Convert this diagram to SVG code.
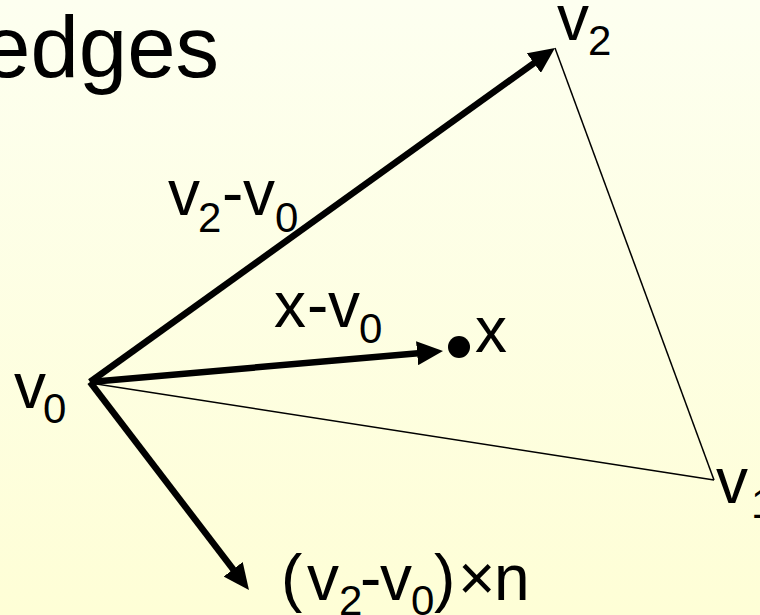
<svg xmlns="http://www.w3.org/2000/svg" width="760" height="615" viewBox="0 0 760 615">
<defs>
<linearGradient id="bg" x1="0" y1="0" x2="0" y2="1">
<stop offset="0" stop-color="#FDFFF0"/>
<stop offset="1" stop-color="#FEFED6"/>
</linearGradient>
<marker id="ah" markerUnits="userSpaceOnUse" viewBox="0 0 26 24" markerWidth="26" markerHeight="24" refX="4" refY="12" orient="auto">
<path d="M0,0 L26,12 L0,24 z" fill="#000"/>
</marker>
</defs>
<style>
text{font-family:"Liberation Sans",Arial,sans-serif;fill:#000}
.m{font-size:64px}
.s{font-size:42px}
.thin{stroke:#000;stroke-width:1.5;fill:none}
.thick{stroke:#000;stroke-width:6.5;fill:none;marker-end:url(#ah)}
</style>
<rect x="0" y="0" width="760" height="615" fill="url(#bg)"/>
<text x="-18" y="77" font-size="87">edges</text>
<g id="connectors">
<line class="thin" x1="90" y1="383" x2="714" y2="480"/>
<line class="thin" x1="555" y1="48" x2="714" y2="480"/>
<line class="thick" x1="90" y1="382" x2="537.1" y2="60.8"/>
<line class="thick" x1="90" y1="382" x2="421.1" y2="352.9"/>
<line class="thick" x1="90" y1="382" x2="235.6" y2="572.5"/>
</g>
<g id="v0"><text class="m" x="14" y="408">v<tspan class="s" x="43" y="423">0</tspan></text></g>
<g id="v2"><text class="m" x="557" y="40">v<tspan class="s" x="588" y="55">2</tspan></text></g>
<g id="v1"><text class="m" x="716" y="503">v<tspan class="s" x="751" y="518">1</tspan></text></g>
<g id="x"><circle cx="459" cy="347" r="11" fill="#000"/><text class="m" x="475" y="352">x</text></g>
<g id="lbl-v2v0"><text class="m" x="168" y="215">v<tspan class="s" x="198" y="232">2</tspan><tspan x="222" y="215">-</tspan><tspan x="243" y="215">v</tspan><tspan class="s" x="275" y="232">0</tspan></text></g>
<g id="lbl-xv0"><text class="m" x="274" y="327">x<tspan x="307" y="327">-</tspan><tspan x="328" y="327">v</tspan><tspan class="s" x="359" y="343">0</tspan></text></g>
<g id="lbl-normal"><text class="m" x="281" y="600">(<tspan x="307" y="600">v</tspan><tspan class="s" x="339" y="615">2</tspan><tspan x="360" y="600">-</tspan><tspan x="380" y="600">v</tspan><tspan class="s" x="411" y="615">0</tspan><tspan x="434" y="600">)</tspan><tspan x="458" y="600">×</tspan><tspan x="494" y="600">n</tspan></text></g>
</svg>
